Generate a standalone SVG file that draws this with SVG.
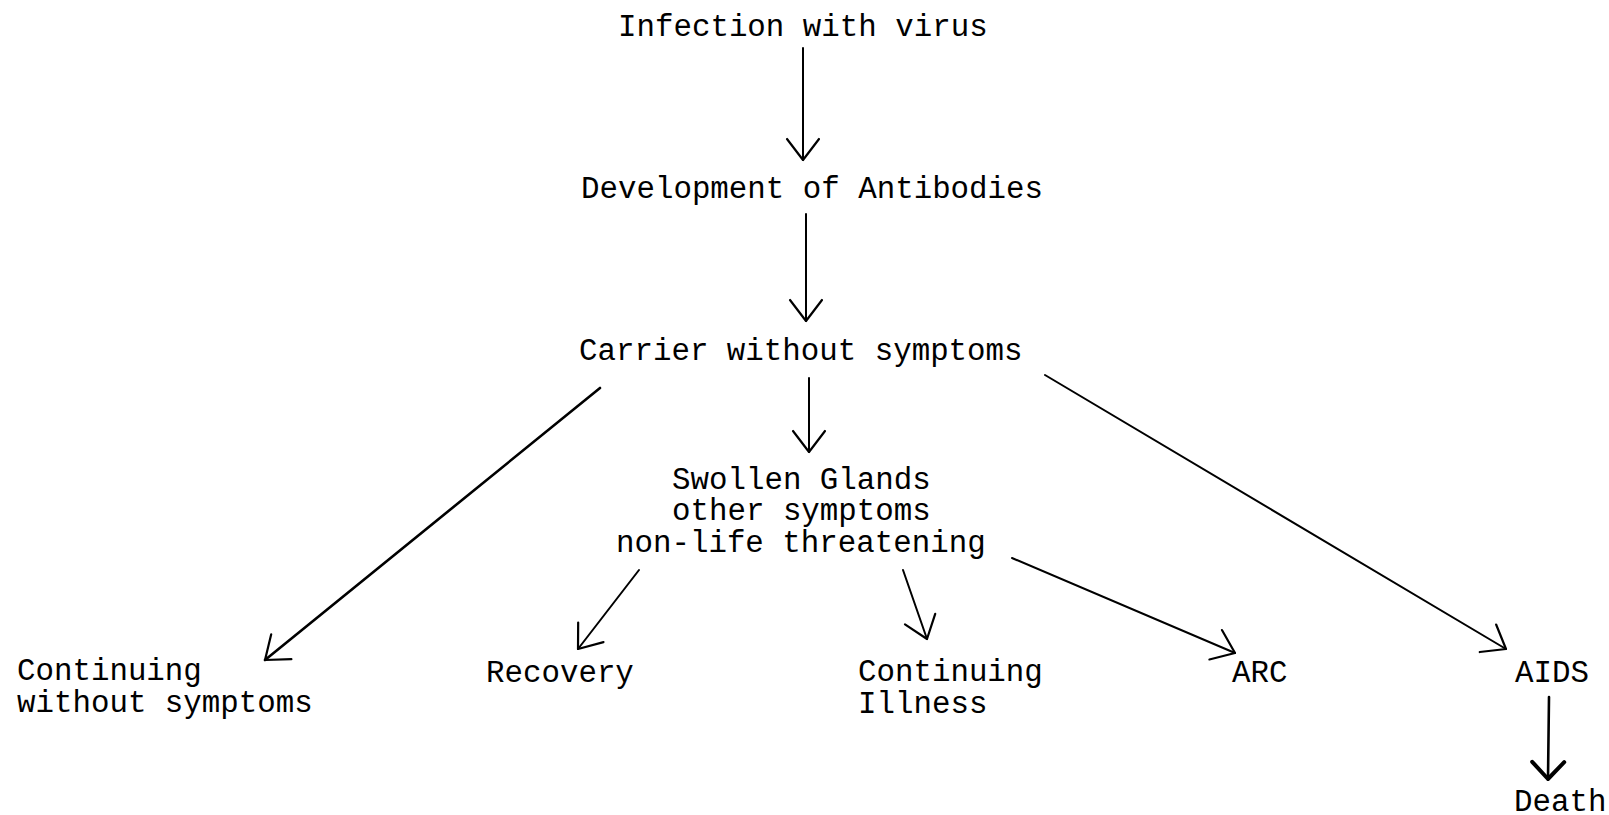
<svg xmlns="http://www.w3.org/2000/svg" width="1609" height="815" viewBox="0 0 1609 815">
<style>
text{font-family:"Liberation Mono","Courier New",monospace;font-size:30.8px;fill:#000}
.c{fill:none;stroke:#000;stroke-width:2;stroke-linecap:round;stroke-linejoin:round}
</style>
<defs>
<marker id="ah" viewBox="-26 -20 30 40" refX="0" refY="0" markerWidth="30" markerHeight="40" markerUnits="userSpaceOnUse" orient="auto">
<path d="M-21 -16 L0 0 L-21 16" fill="none" stroke="#000" stroke-width="2.2" stroke-linecap="round" stroke-linejoin="round"/>
</marker>
<marker id="ahb" viewBox="-26 -20 30 40" refX="0" refY="0" markerWidth="30" markerHeight="40" markerUnits="userSpaceOnUse" orient="auto">
<path d="M-17 -16 L0 0 L-17 16" fill="none" stroke="#000" stroke-width="4" stroke-linecap="round" stroke-linejoin="round"/>
</marker>
</defs>
<rect width="1609" height="815" fill="#fff"/>
<g id="connectors">
<line class="c" x1="803" y1="48" x2="803" y2="160" marker-end="url(#ah)"/>
<line class="c" x1="806" y1="214" x2="806" y2="321" marker-end="url(#ah)"/>
<line class="c" x1="809" y1="378" x2="809" y2="452" marker-end="url(#ah)"/>
<line class="c" x1="600" y1="388" x2="265" y2="660" style="stroke-width:2.6" marker-end="url(#ah)"/>
<line class="c" x1="639" y1="570" x2="578" y2="649" marker-end="url(#ah)"/>
<line class="c" x1="903" y1="570" x2="927" y2="639" marker-end="url(#ah)"/>
<line class="c" x1="1012" y1="558" x2="1235" y2="653" marker-end="url(#ah)"/>
<line class="c" x1="1045" y1="375" x2="1506" y2="649" marker-end="url(#ah)"/>
<line class="c" x1="1549" y1="697" x2="1548" y2="779" style="stroke-width:2.6" marker-end="url(#ahb)"/>
</g>
<g id="n-infection"><text x="618" y="36">Infection with virus</text></g>
<g id="n-antibodies"><text x="581" y="198">Development of Antibodies</text></g>
<g id="n-carrier"><text x="579" y="360">Carrier without symptoms</text></g>
<g id="n-swollen"><text x="672" y="489">Swollen Glands<tspan x="672" y="520">other symptoms</tspan><tspan x="616" y="552">non-life threatening</tspan></text></g>
<g id="n-continuing"><text x="17" y="680">Continuing<tspan x="17" y="712">without symptoms</tspan></text></g>
<g id="n-recovery"><text x="486" y="682">Recovery</text></g>
<g id="n-illness"><text x="858" y="681">Continuing<tspan x="858" y="713">Illness</tspan></text></g>
<g id="n-arc"><text x="1232" y="682">ARC</text></g>
<g id="n-aids"><text x="1515" y="682">AIDS</text></g>
<g id="n-death"><text x="1514" y="811">Death</text></g>
</svg>
